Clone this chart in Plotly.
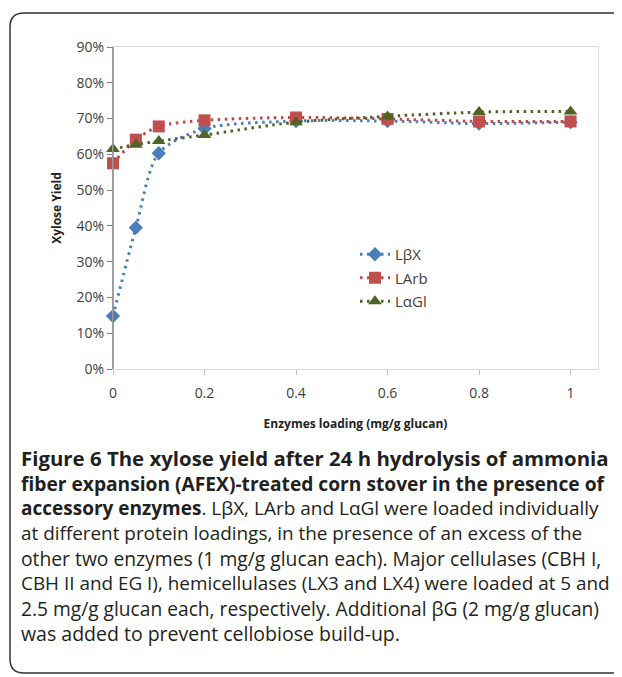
import plotly.graph_objects as go

loading = [0, 0.05, 0.1, 0.2, 0.4, 0.6, 0.8, 1]
lbx = [0.148, 0.395, 0.603, 0.672, 0.693, 0.693, 0.686, 0.690]
larb = [0.575, 0.641, 0.678, 0.695, 0.703, 0.699, 0.692, 0.692]
lagl = [0.615, 0.627, 0.637, 0.654, 0.690, 0.706, 0.718, 0.720]
series_names = ["LβX", "LArb", "LαGl"]
y_ticks = [0, 0.1, 0.2, 0.3, 0.4, 0.5, 0.6, 0.7, 0.8, 0.9]
x_ticks = [0, 0.2, 0.4, 0.6, 0.8, 1]
x_tick_labels = ["0", "0.2", "0.4", "0.6", "0.8", "1"]

caption_lines = [
    "<b>Figure 6 The xylose yield after 24 h hydrolysis of ammonia</b>",
    "<b>fiber expansion (AFEX)-treated corn stover in the presence of</b>",
    "<b>accessory enzymes</b>. LβX, LArb and LαGl were loaded individually",
    "at different protein loadings, in the presence of an excess of the",
    "other two enzymes (1 mg/g glucan each). Major cellulases (CBH I,",
    "CBH II and EG I), hemicellulases (LX3 and LX4) were loaded at 5 and",
    "2.5 mg/g glucan each, respectively. Additional βG (2 mg/g glucan)",
    "was added to prevent cellobiose build-up.",
]
caption_sizes = [20.4, 19.2, 19.0, 18.9, 19.3, 18.9, 19.2, 19.5]

OFF = 8  # page body margin
W, H = 622 - OFF, 677 - OFF
L, T = 113 - OFF, 47 - OFF
PW, PH = 485, 322
R = W - L - PW
B = H - T - PH


def px(x):
    return (x - OFF - L) / PW


def py(y):
    return (T + PH - (y - OFF)) / PH


colors = ["#4A7EBB", "#BE4B48", "#4F6228"]
mcolors = ["#4A7EBB", "#C0504D", "#4F6228"]
symbols = ["diamond", "square", "triangle-up"]
msizes = [11, 12, 12]

fig = go.Figure()
for i, (name, vals) in enumerate(zip(series_names, [lbx, larb, lagl])):
    fig.add_trace(go.Scatter(
        x=loading, y=vals, name=name, mode="lines+markers",
        line=dict(color=colors[i], width=3, dash="2.5px,4.5px", shape="spline", smoothing=0.8),
        marker=dict(symbol=symbols[i], size=msizes[i], color=mcolors[i]),
        cliponaxis=False, legendgroup=name,
    ))

fig.update_layout(
    width=W, height=H,
    margin=dict(l=L, r=R, t=T, b=B),
    paper_bgcolor="white", plot_bgcolor="white",
    font=dict(family="Open Sans", color="#404040", size=14),
    showlegend=True,
    legend=dict(x=px(355), y=py(238), xanchor="left", yanchor="top",
                bgcolor="rgba(0,0,0,0)", font=dict(size=15, color="#404040"),
                tracegroupgap=1, itemwidth=30),
    xaxis=dict(range=[0, 1.06], tickvals=x_ticks, ticktext=x_tick_labels,
               showgrid=False, zeroline=False, showline=True, linecolor="#D9D9D9", linewidth=1,
               mirror=True, ticks="outside", ticklen=5, tickcolor="#BFBFBF",
               ticklabelstandoff=6,
               tickfont=dict(size=14, color="#404040"),
               title=dict(text="<b>Enzymes loading (mg/g glucan)</b>", font=dict(size=12, color="#222"), standoff=18)),
    yaxis=dict(range=[0, 0.9], tickvals=y_ticks, tickformat=".0%",
               showgrid=False, zeroline=False, showline=True, linecolor="#D9D9D9", linewidth=1,
               mirror=True, ticks="outside", ticklen=5, tickcolor="#808080",
               tickfont=dict(size=14, color="#404040"),
               title=dict(text="<b>Xylose Yield</b>", font=dict(size=12, color="#222"), standoff=12)),
)

# darker y-axis line on left
fig.add_shape(type="line", xref="paper", yref="paper", x0=0, x1=0, y0=0, y1=1,
              line=dict(color="#868686", width=1.5))

# rounded border frame
x0, x1, y0, y1, r = 10, 640, 13, 673, 14
path = (f"M {px(x0)},{py(y1 - r)} L {px(x0)},{py(y0 + r)} "
        f"Q {px(x0)},{py(y0)} {px(x0 + r)},{py(y0)} L {px(x1)},{py(y0)} "
        f"M {px(x0)},{py(y1 - r)} Q {px(x0)},{py(y1)} {px(x0 + r)},{py(y1)} L {px(x1)},{py(y1)}")
fig.add_shape(type="path", xref="paper", yref="paper", path=path,
              line=dict(color="#333333", width=1.5))

for i, line in enumerate(caption_lines):
    fig.add_annotation(x=px(19), y=py(458 + i * 25), xref="paper", yref="paper",
                       text=line, showarrow=False, xanchor="left", yanchor="middle",
                       font=dict(family="Open Sans", size=caption_sizes[i], color="#231F20"))

fig.write_html("out.html")
